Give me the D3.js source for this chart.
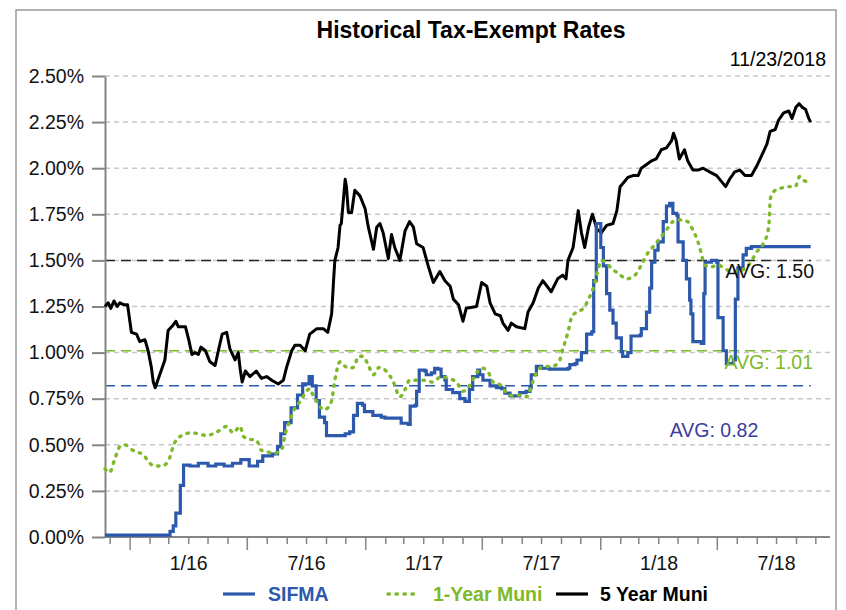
<!DOCTYPE html>
<html>
<head>
<meta charset="utf-8">
<script src="https://cdn.jsdelivr.net/npm/d3@7.9.0/dist/d3.min.js"></script>
<style>
  body { margin: 0; background: #fff; }
  svg { display: block; font-family: "Liberation Sans", Arial, sans-serif; }
</style>
</head>
<body>
<svg id="chart" width="846" height="610"></svg>
<script>
// ---- data ----
const title = "Historical Tax-Exempt Rates";
const asOf = "11/23/2018";
const yTicks = [0, 0.25, 0.5, 0.75, 1.0, 1.25, 1.5, 1.75, 2.0, 2.25, 2.5];
const xTickLabels = ["1/16", "7/16", "1/17", "7/17", "1/18", "7/18"];
const seriesNames = ["SIFMA", "1-Year Muni", "5 Year Muni"];
const avgValues = [0.82, 1.01, 1.50];

// SIFMA weekly reset (step)
const sifma = [
  ["2015-11-23",0.01],["2016-03-03",0.03],["2016-03-08",0.06],["2016-03-12",0.13],["2016-03-19",0.28],
  ["2016-03-24",0.39],["2016-04-03",0.385],["2016-04-16",0.40],["2016-05-01",0.385],["2016-05-13",0.395],
  ["2016-05-26",0.385],["2016-06-08",0.40],["2016-06-21",0.42],["2016-07-04",0.385],["2016-07-17",0.41],
  ["2016-07-25",0.44],["2016-08-09",0.45],["2016-08-17",0.49],["2016-08-22",0.56],["2016-08-28",0.62],
  ["2016-09-07",0.70],["2016-09-17",0.77],["2016-09-25",0.83],["2016-10-05",0.87],["2016-10-10",0.82],
  ["2016-10-16",0.74],["2016-10-21",0.65],["2016-10-29",0.62],["2016-11-01",0.55],["2016-11-30",0.56],
  ["2016-12-07",0.57],["2016-12-13",0.66],["2016-12-19",0.725],["2016-12-27",0.715],["2016-12-30",0.68],
  ["2017-01-12",0.66],["2017-01-25",0.65],["2017-01-31",0.645],["2017-02-25",0.617],["2017-03-08",0.61],
  ["2017-03-11",0.71],["2017-03-19",0.715],["2017-03-21",0.79],["2017-03-25",0.905],["2017-04-03",0.90],
  ["2017-04-05",0.88],["2017-04-13",0.89],["2017-04-18",0.915],["2017-04-23",0.91],["2017-04-28",0.87],
  ["2017-05-04",0.85],["2017-05-06",0.80],["2017-05-16",0.783],["2017-05-27",0.75],["2017-06-04",0.735],
  ["2017-06-11",0.80],["2017-06-16",0.87],["2017-06-24",0.905],["2017-06-27",0.88],["2017-07-02",0.85],
  ["2017-07-13",0.82],["2017-07-23",0.81],["2017-07-31",0.805],["2017-08-05",0.78],["2017-08-13",0.765],
  ["2017-08-28",0.783],["2017-09-07",0.79],["2017-09-13",0.81],["2017-09-15",0.88],["2017-09-23",0.925],
  ["2017-10-01",0.915],["2017-10-13",0.91],["2017-11-11",0.915],["2017-11-14",0.935],["2017-11-22",0.94],
  ["2017-11-25",0.96],["2017-12-02",1.00],["2017-12-10",1.10],["2017-12-18",1.113],["2017-12-21",1.39],
  ["2017-12-25",1.70],["2018-01-01",1.57],["2018-01-05",1.47],["2018-01-10",1.32],["2018-01-15",1.23],
  ["2018-01-20",1.16],["2018-01-25",1.08],["2018-02-02",1.005],["2018-02-04",0.98],["2018-02-12",1.00],
  ["2018-02-17",1.09],["2018-03-03",1.095],["2018-03-05",1.13],["2018-03-13",1.22],["2018-03-18",1.35],
  ["2018-03-21",1.49],["2018-03-26",1.555],["2018-03-31",1.60],["2018-04-08",1.71],["2018-04-13",1.795],
  ["2018-04-18",1.81],["2018-04-23",1.755],["2018-04-29",1.745],["2018-05-01",1.60],["2018-05-09",1.50],
  ["2018-05-14",1.40],["2018-05-19",1.285],["2018-05-21",1.21],["2018-05-24",1.06],["2018-06-06",1.05],
  ["2018-06-10",1.32],["2018-06-12",1.49],["2018-06-22",1.50],["2018-06-30",1.49],["2018-07-02",1.19],
  ["2018-07-10",1.01],["2018-07-15",0.94],["2018-07-26",0.96],["2018-07-29",1.29],["2018-08-02",1.46],
  ["2018-08-10",1.53],["2018-08-15",1.565],["2018-08-23",1.575],["2018-11-23",1.575]
];

// 1-Year Muni
const muni1 = [
  ["2015-11-23",0.37],["2015-11-30",0.35],["2015-12-08",0.42],["2015-12-16",0.49],["2015-12-24",0.50],
  ["2016-01-01",0.48],["2016-01-11",0.46],["2016-01-21",0.45],["2016-01-29",0.41],["2016-02-08",0.385],
  ["2016-02-19",0.385],["2016-02-29",0.41],["2016-03-10",0.51],["2016-03-21",0.55],["2016-04-05",0.565],
  ["2016-04-16",0.56],["2016-04-29",0.55],["2016-05-09",0.56],["2016-05-20",0.58],["2016-05-30",0.60],
  ["2016-06-09",0.565],["2016-06-20",0.60],["2016-06-25",0.545],["2016-07-05",0.53],["2016-07-15",0.525],
  ["2016-07-23",0.47],["2016-08-03",0.46],["2016-08-13",0.455],["2016-08-24",0.48],["2016-08-29",0.56],
  ["2016-09-05",0.63],["2016-09-13",0.70],["2016-09-21",0.735],["2016-10-01",0.79],["2016-10-06",0.805],
  ["2016-10-11",0.77],["2016-10-19",0.725],["2016-10-27",0.69],["2016-11-03",0.70],["2016-11-09",0.74],
  ["2016-11-14",0.85],["2016-11-22",0.95],["2016-11-30",0.925],["2016-12-05",0.915],["2016-12-13",0.92],
  ["2016-12-21",0.98],["2016-12-28",0.98],["2017-01-05",0.93],["2017-01-13",0.88],["2017-01-22",0.92],
  ["2017-02-03",0.895],["2017-02-13",0.84],["2017-02-23",0.76],["2017-03-03",0.80],["2017-03-10",0.85],
  ["2017-03-21",0.85],["2017-04-02",0.85],["2017-04-15",0.84],["2017-04-28",0.87],["2017-05-09",0.86],
  ["2017-05-22",0.84],["2017-06-01",0.79],["2017-06-12",0.825],["2017-06-22",0.89],["2017-07-02",0.915],
  ["2017-07-10",0.895],["2017-07-18",0.84],["2017-07-29",0.825],["2017-08-08",0.78],["2017-08-19",0.765],
  ["2017-08-29",0.77],["2017-09-08",0.76],["2017-09-16",0.83],["2017-09-24",0.895],["2017-10-04",0.925],
  ["2017-10-17",0.925],["2017-10-28",0.95],["2017-11-04",1.03],["2017-11-11",1.11],["2017-11-17",1.195],
  ["2017-11-25",1.22],["2017-12-05",1.24],["2017-12-13",1.29],["2017-12-21",1.357],["2017-12-29",1.466],
  ["2018-01-02",1.50],["2018-01-10",1.485],["2018-01-18",1.455],["2018-01-28",1.43],["2018-02-10",1.40],
  ["2018-02-23",1.42],["2018-03-05",1.475],["2018-03-15",1.54],["2018-03-26",1.585],["2018-04-03",1.62],
  ["2018-04-13",1.665],["2018-04-23",1.71],["2018-05-06",1.72],["2018-05-16",1.71],["2018-05-24",1.665],
  ["2018-06-01",1.60],["2018-06-06",1.54],["2018-06-11",1.475],["2018-06-22",1.465],["2018-07-02",1.475],
  ["2018-07-15",1.45],["2018-07-31",1.44],["2018-08-10",1.45],["2018-08-21",1.485],["2018-08-31",1.545],
  ["2018-09-11",1.595],["2018-09-18",1.665],["2018-09-20",1.74],["2018-09-21",1.83],["2018-09-27",1.875],
  ["2018-10-07",1.89],["2018-10-17",1.90],["2018-10-30",1.90],["2018-11-06",1.955],["2018-11-12",1.935],
  ["2018-11-20",1.925],["2018-11-23",1.93]
];

// 5 Year Muni
const muni5 = [
  ["2015-11-23",1.25],["2015-11-28",1.27],["2015-12-02",1.24],["2015-12-07",1.28],["2015-12-12",1.25],
  ["2015-12-16",1.27],["2015-12-22",1.26],["2015-12-28",1.26],["2016-01-03",1.11],["2016-01-11",1.10],
  ["2016-01-16",1.06],["2016-01-24",1.07],["2016-01-29",1.01],["2016-02-03",0.92],["2016-02-06",0.84],
  ["2016-02-09",0.81],["2016-02-13",0.85],["2016-02-19",0.91],["2016-02-24",0.96],["2016-02-29",1.12],
  ["2016-03-08",1.15],["2016-03-12",1.17],["2016-03-16",1.14],["2016-03-27",1.14],["2016-04-01",1.07],
  ["2016-04-06",0.99],["2016-04-11",1.00],["2016-04-16",0.99],["2016-04-20",1.03],["2016-04-27",1.01],
  ["2016-05-04",0.95],["2016-05-12",0.93],["2016-05-17",1.01],["2016-05-23",1.10],["2016-05-30",1.11],
  ["2016-06-04",1.02],["2016-06-12",0.96],["2016-06-17",1.00],["2016-06-20",0.91],["2016-06-23",0.84],
  ["2016-06-28",0.90],["2016-07-05",0.87],["2016-07-15",0.90],["2016-07-23",0.86],["2016-07-31",0.87],
  ["2016-08-08",0.85],["2016-08-18",0.83],["2016-08-26",0.85],["2016-08-31",0.92],["2016-09-08",1.01],
  ["2016-09-13",1.04],["2016-09-21",1.04],["2016-09-29",1.01],["2016-10-06",1.10],["2016-10-17",1.13],
  ["2016-10-27",1.13],["2016-11-03",1.11],["2016-11-09",1.21],["2016-11-12",1.39],["2016-11-14",1.50],
  ["2016-11-19",1.57],["2016-11-22",1.69],["2016-11-24",1.70],["2016-11-30",1.94],["2016-12-02",1.90],
  ["2016-12-05",1.76],["2016-12-10",1.76],["2016-12-15",1.88],["2016-12-23",1.85],["2016-12-31",1.78],
  ["2017-01-05",1.68],["2017-01-13",1.56],["2017-01-18",1.68],["2017-01-23",1.70],["2017-01-28",1.65],
  ["2017-02-05",1.51],["2017-02-10",1.64],["2017-02-15",1.57],["2017-02-23",1.50],["2017-03-03",1.66],
  ["2017-03-10",1.71],["2017-03-16",1.68],["2017-03-21",1.59],["2017-03-31",1.57],["2017-04-08",1.47],
  ["2017-04-16",1.38],["2017-04-26",1.44],["2017-05-04",1.39],["2017-05-12",1.36],["2017-05-17",1.29],
  ["2017-05-25",1.26],["2017-06-01",1.17],["2017-06-06",1.24],["2017-06-22",1.25],["2017-06-30",1.38],
  ["2017-07-08",1.36],["2017-07-13",1.27],["2017-07-21",1.21],["2017-07-29",1.20],["2017-08-02",1.16],
  ["2017-08-10",1.12],["2017-08-15",1.16],["2017-08-23",1.14],["2017-09-05",1.13],["2017-09-10",1.22],
  ["2017-09-18",1.27],["2017-09-26",1.35],["2017-10-03",1.39],["2017-10-16",1.33],["2017-10-26",1.40],
  ["2017-11-03",1.42],["2017-11-08",1.40],["2017-11-11",1.50],["2017-11-19",1.57],["2017-11-27",1.77],
  ["2017-12-02",1.65],["2017-12-07",1.57],["2017-12-13",1.68],["2017-12-19",1.75],["2017-12-26",1.67],
  ["2018-01-02",1.65],["2018-01-10",1.69],["2018-01-20",1.70],["2018-01-26",1.77],["2018-01-31",1.90],
  ["2018-02-05",1.92],["2018-02-12",1.95],["2018-02-20",1.96],["2018-02-28",1.96],["2018-03-05",2.00],
  ["2018-03-13",2.02],["2018-03-21",2.04],["2018-03-28",2.05],["2018-04-05",2.10],["2018-04-13",2.11],
  ["2018-04-21",2.15],["2018-04-24",2.19],["2018-04-28",2.15],["2018-05-03",2.05],["2018-05-11",2.10],
  ["2018-05-16",2.04],["2018-05-24",1.99],["2018-06-01",1.99],["2018-06-09",2.00],["2018-06-19",1.98],
  ["2018-06-30",1.96],["2018-07-07",1.93],["2018-07-14",1.90],["2018-07-20",1.94],["2018-07-28",1.98],
  ["2018-08-05",1.99],["2018-08-13",1.96],["2018-08-23",1.96],["2018-08-31",2.01],["2018-09-08",2.07],
  ["2018-09-16",2.13],["2018-09-21",2.20],["2018-09-29",2.21],["2018-10-04",2.26],["2018-10-12",2.30],
  ["2018-10-20",2.31],["2018-10-25",2.27],["2018-10-31",2.33],["2018-11-05",2.35],["2018-11-10",2.33],
  ["2018-11-15",2.32],["2018-11-20",2.27],["2018-11-23",2.25]
];

// ---- colours ----
const BLUE = "#2c59ab", GREEN = "#7db928", BLACK = "#000", AVG_BLUE = "#3d3d9e", AXIS = "#858585";

const parse = d3.timeParse("%Y-%m-%d");
const toPts = arr => arr.map(([d, v]) => ({ date: parse(d), value: v }));

const svg = d3.select("#chart");
const plotLeft = 105, plotRight = 830, plotTop = 76, plotBottom = 537;

const x = d3.scaleTime()
  .domain([parse("2015-11-23"), parse("2018-12-23")])
  .range([plotLeft, plotRight]);
const y = d3.scaleLinear().domain([0, 2.5]).range([plotBottom, plotTop]);

// frame
svg.append("rect")
  .attr("x", 16).attr("y", 10).attr("width", 820).attr("height", 620)
  .attr("fill", "none").attr("stroke", "#9a9a9a").attr("stroke-width", 1.5);

// title + date
svg.append("text").attr("x", 471).attr("y", 38).attr("text-anchor", "middle")
  .attr("font-size", 23).attr("font-weight", "bold").text(title);
svg.append("text").attr("x", 826).attr("y", 66).attr("text-anchor", "end")
  .attr("font-size", 19.5).text(asOf);

// gridlines
svg.append("g").selectAll("line")
  .data(yTicks.filter(v => v > 0))
  .join("line")
  .attr("x1", plotLeft).attr("x2", plotRight)
  .attr("y1", d => y(d)).attr("y2", d => y(d))
  .attr("stroke", "#c8c8c8").attr("stroke-width", 1.5).attr("stroke-dasharray", "5,4");

// average lines
const dataEnd = parse("2018-11-23");
const avgColors = [BLUE, GREEN, "#222"];
svg.append("g").selectAll("line")
  .data(avgValues)
  .join("line")
  .attr("x1", plotLeft).attr("x2", x(dataEnd))
  .attr("y1", d => y(d)).attr("y2", d => y(d))
  .attr("stroke", (d, i) => avgColors[i]).attr("stroke-width", 1.5)
  .attr("stroke-dasharray", "10,6");

// left axis
const yAxis = svg.append("g")
  .attr("transform", `translate(${plotLeft},0)`)
  .call(d3.axisLeft(y).tickValues(yTicks).tickSize(13).tickSizeOuter(0).tickPadding(8)
    .tickFormat(d => d3.format(".2f")(d) + "%"));
yAxis.select(".domain").attr("stroke", AXIS).attr("stroke-width", 2);
yAxis.selectAll(".tick line").attr("stroke", AXIS).attr("stroke-width", 2);
yAxis.selectAll(".tick text").attr("font-size", 19.5).attr("fill", "#111")
  .attr("font-family", "Liberation Sans, Arial, sans-serif");

// bottom axis: monthly minor ticks, Jan/Jul major ticks
const months = d3.timeMonth.range(parse("2015-12-01"), parse("2018-12-02"));
const majors = months.filter(d => d.getMonth() === 0 || d.getMonth() === 6);
const xAxis = svg.append("g").attr("transform", `translate(0,${plotBottom})`);
xAxis.append("line").attr("x1", plotLeft).attr("x2", plotRight)
  .attr("stroke", AXIS).attr("stroke-width", 2);
xAxis.selectAll("line.tk")
  .data(months)
  .join("line").attr("class", "tk")
  .attr("x1", d => x(d)).attr("x2", d => x(d))
  .attr("y1", 0).attr("y2", d => (d.getMonth() === 0 || d.getMonth() === 6) ? 13 : 7)
  .attr("stroke", AXIS).attr("stroke-width", 1.5);
xAxis.selectAll("text")
  .data(majors)
  .join("text")
  .attr("x", d => (x(d) + x(d3.timeMonth.offset(d, 6))) / 2)
  .attr("y", 33)
  .attr("text-anchor", "middle").attr("font-size", 19.5).attr("fill", "#111")
  .text((d, i) => xTickLabels[i]);

// series
const line = d3.line().x(d => x(d.date)).y(d => y(d.value));
svg.append("path").datum(toPts(muni5))
  .attr("fill", "none").attr("stroke", BLACK).attr("stroke-width", 3)
  .attr("stroke-linejoin", "round").attr("d", line);
svg.append("path").datum(toPts(sifma))
  .attr("fill", "none").attr("stroke", BLUE).attr("stroke-width", 3.2)
  .attr("d", d3.line().curve(d3.curveStepAfter).x(d => x(d.date)).y(d => y(d.value)));
svg.append("path").datum(toPts(muni1))
  .attr("fill", "none").attr("stroke", GREEN).attr("stroke-width", 3.4)
  .attr("stroke-linecap", "round").attr("stroke-dasharray", "1.5,6.5")
  .attr("d", d3.line().curve(d3.curveMonotoneX).x(d => x(d.date)).y(d => y(d.value)));

// average labels
svg.append("text").attr("x", 814).attr("y", 278).attr("text-anchor", "end")
  .attr("font-size", 19.5).attr("fill", "#111").text("AVG: " + avgValues[2].toFixed(2));
svg.append("text").attr("x", 813).attr("y", 369).attr("text-anchor", "end")
  .attr("font-size", 19.5).attr("fill", GREEN).text("AVG: " + avgValues[1].toFixed(2));
svg.append("text").attr("x", 714).attr("y", 437).attr("text-anchor", "middle")
  .attr("font-size", 19.5).attr("fill", AVG_BLUE).text("AVG: " + avgValues[0].toFixed(2));

// legend
const legend = [
  { x0: 223, tx: 268, color: BLUE, dash: null, w: 3.2, txtColor: BLUE },
  { x0: 388, tx: 433, color: GREEN, dash: "1.5,6.5", w: 3.4, txtColor: GREEN },
  { x0: 556, tx: 600, color: BLACK, dash: null, w: 3.2, txtColor: "#000" }
];
const lg = svg.append("g").selectAll("g").data(legend).join("g");
lg.append("line")
  .attr("x1", d => d.x0).attr("x2", d => d.x0 + 32).attr("y1", 594).attr("y2", 594)
  .attr("stroke", d => d.color).attr("stroke-width", d => d.w)
  .attr("stroke-linecap", d => d.dash ? "round" : "butt")
  .attr("stroke-dasharray", d => d.dash);
lg.append("text")
  .attr("x", d => d.tx).attr("y", 601)
  .attr("font-size", 19.5).attr("font-weight", "bold").attr("fill", d => d.txtColor)
  .text((d, i) => seriesNames[i]);
</script>
</body>
</html>
